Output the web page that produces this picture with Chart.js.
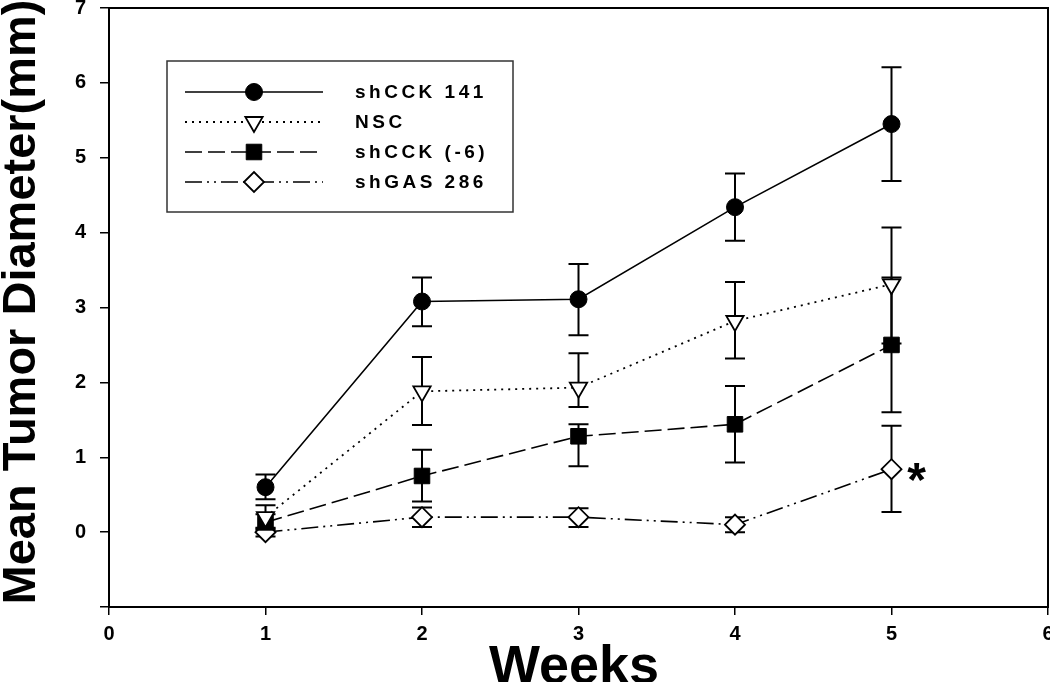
<!DOCTYPE html>
<html>
<head>
<meta charset="utf-8">
<title>Mean Tumor Diameter</title>
<script src="https://cdn.jsdelivr.net/npm/chart.js"></script>
<style>
  html, body { margin: 0; padding: 0; background: #fff; }
  #wrap { width: 1050px; height: 682px; }
</style>
</head>
<body>
<div id="wrap"><canvas id="chart" width="1050" height="682"></canvas></div>
<script>
// Data
const weeks = [1, 2, 3, 4, 5];
const seriesNames = ['shCCK 141', 'NSC', 'shCCK (-6)', 'shGAS 286'];

const shCCK141 = [0.60, 3.08, 3.11, 4.34, 5.45];
const shCCK141Hi = [0.77, 3.40, 3.58, 4.79, 6.21];
const shCCK141Lo = [0.44, 2.75, 2.63, 3.89, 4.69];

const nsc = [0.20, 1.88, 1.93, 2.82, 3.31];
const nscHi = [0.36, 2.34, 2.39, 3.34, 4.07];
const nscLo = [0.05, 1.43, 1.67, 2.32, 2.52];

const shCCK6 = [0.13, 0.75, 1.28, 1.44, 2.50];
const shCCK6Hi = [0.24, 1.10, 1.44, 1.95, 3.40];
const shCCK6Lo = [0.03, 0.41, 0.88, 0.93, 1.60];

const shGAS286 = [0.00, 0.20, 0.20, 0.10, 0.84];
const shGAS286Hi = [0.06, 0.33, 0.32, 0.20, 1.42];
const shGAS286Lo = [-0.06, 0.07, 0.07, 0.00, 0.27];

const xTicks = [0, 1, 2, 3, 4, 5, 6];
const yTicks = [-1, 0, 1, 2, 3, 4, 5, 6, 7];
const yTickLabels = ['', '0', '1', '2', '3', '4', '5', '6', '7'];

const FONT = '"Liberation Sans", Arial, Helvetica, sans-serif';

// plot box in the original figure
const AREA = { left: 109, right: 1048, top: 8, bottom: 607 };

function points(ys) {
    return weeks.map((w, i) => ({ x: w, y: ys[i] }));
}

const errorBars = [
    { hi: shCCK141Hi, lo: shCCK141Lo },
    { hi: nscHi, lo: nscLo },
    { hi: shCCK6Hi, lo: shCCK6Lo },
    { hi: shGAS286Hi, lo: shGAS286Lo }
];

// pin the plot box; tick labels are allowed to hang off the edge like the original
const fixedAreaPlugin = {
    id: 'fixedArea',
    afterLayout(chart) {
        const ca = chart.chartArea;
        ca.left = AREA.left; ca.right = AREA.right;
        ca.top = AREA.top; ca.bottom = AREA.bottom;
        ca.width = AREA.right - AREA.left;
        ca.height = AREA.bottom - AREA.top;

        const xs = chart.scales.x, ys = chart.scales.y;
        xs.left = AREA.left; xs.right = AREA.right; xs.width = ca.width;
        xs.top = AREA.bottom; xs.bottom = chart.height; xs.height = xs.bottom - xs.top;
        ys.top = AREA.top; ys.bottom = AREA.bottom; ys.height = ca.height;
        ys.left = 0; ys.right = AREA.left; ys.width = AREA.left;
        xs.configure();
        ys.configure();
    }
};

// error bars go under the markers
const errorBarPlugin = {
    id: 'errorBars',
    beforeDatasetsDraw(chart) {
        const ctx = chart.ctx;
        const xs = chart.scales.x, ys = chart.scales.y;
        ctx.save();
        ctx.strokeStyle = '#000';
        ctx.lineWidth = 2;
        ctx.setLineDash([]);
        errorBars.forEach(eb => {
            weeks.forEach((w, i) => {
                const px = xs.getPixelForValue(w);
                const top = ys.getPixelForValue(eb.hi[i]);
                const bot = ys.getPixelForValue(eb.lo[i]);
                ctx.beginPath();
                ctx.moveTo(px, top); ctx.lineTo(px, bot);
                ctx.moveTo(px - 10, top); ctx.lineTo(px + 10, top);
                ctx.moveTo(px - 10, bot); ctx.lineTo(px + 10, bot);
                ctx.stroke();
            });
        });
        ctx.restore();
    }
};

// frame, legend box, axis titles, asterisk
const decorPlugin = {
    id: 'decor',
    afterDraw(chart) {
        const ctx = chart.ctx;
        const area = chart.chartArea;
        const xs = chart.scales.x, ys = chart.scales.y;
        ctx.save();

        ctx.strokeStyle = '#000';
        ctx.lineWidth = 2;
        ctx.setLineDash([]);
        ctx.strokeRect(area.left, area.top, area.right - area.left, area.bottom - area.top);

        // legend
        ctx.lineWidth = 1.5;
        ctx.strokeStyle = '#333';
        ctx.strokeRect(167, 61, 346, 151);
        chart.data.datasets.forEach((ds, i) => {
            const y = 92 + i * 30;
            ctx.strokeStyle = '#000';
            ctx.lineWidth = ds.borderWidth;
            ctx.setLineDash(ds.borderDash || []);
            ctx.beginPath();
            ctx.moveTo(185, y); ctx.lineTo(323, y);
            ctx.stroke();
            ctx.setLineDash([]);
            ctx.fillStyle = ds.pointBackgroundColor;
            ctx.lineWidth = ds.pointBorderWidth;
            Chart.helpers.drawPoint(ctx, {
                pointStyle: ds.pointStyle,
                rotation: ds.pointRotation || 0,
                radius: ds.pointRadius,
                borderWidth: ds.pointBorderWidth
            }, 254, y);
            ctx.fillStyle = '#000';
            ctx.font = 'bold 19px ' + FONT;
            ctx.letterSpacing = '3.5px';
            ctx.textAlign = 'left';
            ctx.textBaseline = 'middle';
            ctx.fillText(ds.label, 355, y + 1);
            ctx.letterSpacing = '0px';
        });

        // significance mark next to shGAS 286 at week 5
        ctx.fillStyle = '#000';
        ctx.font = 'bold 48px ' + FONT;
        ctx.textAlign = 'center';
        ctx.textBaseline = 'alphabetic';
        ctx.fillText('*', xs.getPixelForValue(weeks[4]) + 25, ys.getPixelForValue(shGAS286[4]) + 27);

        // axis titles
        ctx.font = 'bold 54px ' + FONT;
        ctx.textAlign = 'center';
        ctx.fillText('Weeks', 574, 683);

        ctx.translate(35, 302);
        ctx.rotate(-Math.PI / 2);
        ctx.font = 'bold 47px ' + FONT;
        ctx.fillText('Mean Tumor Diameter(mm)', 0, 0);
        ctx.restore();
    }
};

const commonPoint = { pointBorderColor: '#000', pointHoverRadius: 0 };

new Chart(document.getElementById('chart'), {
    type: 'line',
    data: {
        datasets: [
            Object.assign({
                label: seriesNames[0],
                data: points(shCCK141),
                borderColor: '#000', borderWidth: 1.6, borderDash: [],
                pointStyle: 'circle', pointRadius: 8.5,
                pointBackgroundColor: '#000', pointBorderWidth: 1
            }, commonPoint),
            Object.assign({
                label: seriesNames[1],
                data: points(nsc),
                borderColor: '#000', borderWidth: 1.8, borderDash: [2, 5],
                pointStyle: 'triangle', pointRotation: 180, pointRadius: 10,
                pointBackgroundColor: '#fff', pointBorderWidth: 1.8
            }, commonPoint),
            Object.assign({
                label: seriesNames[2],
                data: points(shCCK6),
                borderColor: '#000', borderWidth: 1.6, borderDash: [17, 6],
                pointStyle: 'rect', pointRadius: 11,
                pointBackgroundColor: '#000', pointBorderWidth: 1
            }, commonPoint),
            Object.assign({
                label: seriesNames[3],
                data: points(shGAS286),
                borderColor: '#000', borderWidth: 1.6, borderDash: [17, 5, 2, 5, 2, 5],
                pointStyle: 'rectRot', pointRadius: 10,
                pointBackgroundColor: '#fff', pointBorderWidth: 1.8
            }, commonPoint)
        ]
    },
    options: {
        responsive: false,
        animation: false,
        events: [],
        layout: { padding: { top: 8, right: 2, left: 0, bottom: 0 } },
        elements: { line: { tension: 0, fill: false } },
        plugins: {
            legend: { display: false },
            tooltip: { enabled: false },
            title: { display: false }
        },
        scales: {
            x: {
                type: 'linear',
                min: xTicks[0],
                max: xTicks[xTicks.length - 1],
                afterBuildTicks: s => { s.ticks = xTicks.map(v => ({ value: v })); },
                afterFit: s => { s.height = 75; },
                ticks: {
                    color: '#000',
                    padding: 7,
                    maxRotation: 0,
                    font: { family: FONT, size: 20, weight: 'bold' },
                    callback: v => String(v)
                },
                grid: { drawOnChartArea: false, tickLength: 8, color: '#000', lineWidth: 1.5 },
                border: { color: '#000', width: 2 }
            },
            y: {
                type: 'linear',
                min: yTicks[0],
                max: yTicks[yTicks.length - 1],
                afterBuildTicks: s => { s.ticks = yTicks.map(v => ({ value: v })); },
                afterFit: s => { s.width = 109; },
                ticks: {
                    color: '#000',
                    padding: 14,
                    font: { family: FONT, size: 20, weight: 'bold' },
                    callback: v => yTickLabels[yTicks.indexOf(v)]
                },
                grid: { drawOnChartArea: false, tickLength: 9, color: '#000', lineWidth: 1.5 },
                border: { color: '#000', width: 2 }
            }
        }
    },
    plugins: [fixedAreaPlugin, errorBarPlugin, decorPlugin]
});
</script>
</body>
</html>
